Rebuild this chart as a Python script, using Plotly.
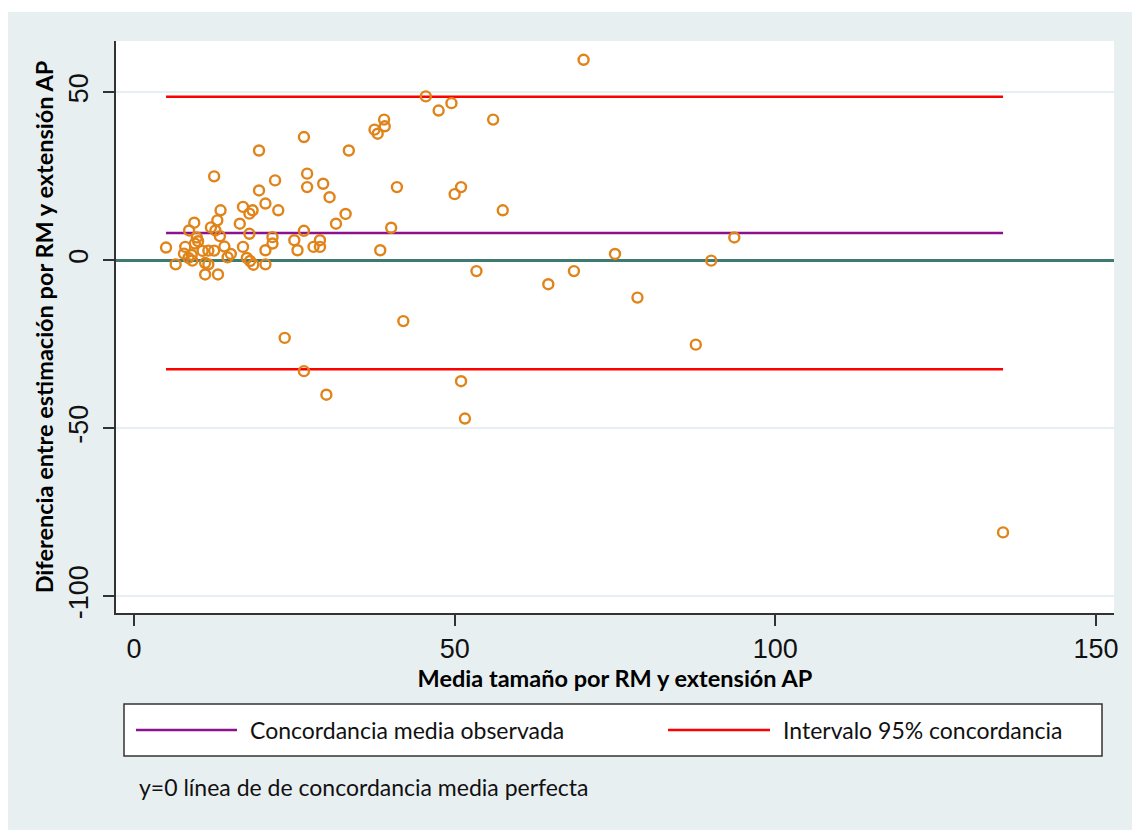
import plotly.graph_objects as go

# Bland-Altman: mean of the two size estimates (x) vs. their difference (y)
media = [
    70.1, 45.5, 47.5, 49.5, 56.0, 39.0, 39.1, 37.5, 38.0, 26.5,
    19.5, 33.5, 27.0, 22.0, 19.5, 27.0, 29.5, 30.5, 41.0, 50.0,
    51.0, 57.5, 20.5, 18.5, 18.0, 17.0, 22.5, 33.0, 31.5, 40.1,
    18.0, 26.5, 21.6, 21.6, 25.0, 29.0, 29.0, 28.0, 25.5, 20.5,
    38.4, 20.5, 12.5, 13.5, 16.5, 13.0, 9.4, 12.0, 12.7, 13.4,
    8.6, 9.8, 10.0, 9.5, 5.0, 8.0, 14.1, 17.0, 10.7, 11.6,
    12.5, 7.8, 9.0, 15.1, 14.6, 8.5, 9.1, 17.6, 18.1, 18.6,
    6.5, 11.1, 11.6, 11.1, 13.1, 23.5, 26.5, 30.0, 42.0, 51.0,
    51.6, 53.4, 64.6, 68.6, 75.0, 78.5, 87.6, 90.0, 93.6, 135.5,
]
diferencia = [
    59.7, 48.8, 44.6, 46.8, 41.9, 41.9, 39.9, 38.9, 37.7, 36.7,
    32.7, 32.7, 25.8, 23.8, 20.8, 21.8, 22.8, 18.8, 21.8, 19.7,
    21.8, 14.9, 16.9, 14.9, 13.9, 15.9, 14.9, 13.8, 10.9, 9.7,
    7.9, 8.8, 6.9, 5.0, 6.0, 6.0, 4.0, 4.0, 3.0, 3.0,
    3.0, -1.2, 25.0, 14.9, 10.9, 11.9, 11.2, 9.8, 8.9, 7.2,
    8.9, 6.8, 5.7, 5.0, 3.8, 4.0, 4.1, 4.0, 2.8, 2.9,
    2.9, 2.0, 1.6, 1.9, 0.9, 0.7, -0.1, 0.7, -0.2, -1.3,
    -1.2, -0.8, -1.2, -4.2, -4.2, -23.1, -33.0, -40.0, -18.1, -36.0,
    -47.1, -3.2, -7.1, -3.2, 1.9, -11.1, -25.1, -0.1, 6.8, -81.0,
]

concordancia_media = 8.15
limite_superior = 48.7
limite_inferior = -32.4

x_ticks = [0, 50, 100, 150]
x_tick_labels = ["0", "50", "100", "150"]
y_ticks = [-100, -50, 0, 50]
y_tick_labels = ["-100", "-50", "0", "50"]

etiqueta_media = "Concordancia media observada"
etiqueta_intervalo = "Intervalo 95% concordancia"
nota = "y=0 línea de de concordancia media perfecta"

COLOR_PUNTOS = "#e0841a"
COLOR_MEDIA = "#8a128c"
COLOR_LIMITES = "#ff0000"
COLOR_CERO = "#3d7a72"
COLOR_FONDO = "#e8eff1"
COLOR_REJILLA = "#e6eff2"

# plot-area geometry in pixels (figure is 1132 x 830)
FIG_W, FIG_H = 1132, 830
L, R, T, B = 116, 1114, 41, 613


def px(xp):
    return (xp - L) / (R - L)


def py(yp):
    return (B - yp) / (B - T)


x_lo, x_hi = min(media), max(media)

fig = go.Figure()

# agreement lines, spanning the observed range of means
for y_val, color in [
    (limite_superior, COLOR_LIMITES),
    (limite_inferior, COLOR_LIMITES),
    (concordancia_media, COLOR_MEDIA),
]:
    fig.add_trace(go.Scatter(
        x=[x_lo, x_hi], y=[y_val, y_val], mode="lines",
        line=dict(color=color, width=2.5), showlegend=False, hoverinfo="skip",
    ))

fig.add_trace(go.Scatter(
    x=media, y=diferencia, mode="markers",
    marker=dict(symbol="circle-open", size=10, color=COLOR_PUNTOS,
                line=dict(width=2.4, color=COLOR_PUNTOS)),
    showlegend=False,
))

shapes = [
    # outer graph region
    dict(type="rect", xref="paper", yref="paper", layer="below",
         x0=px(8), x1=px(FIG_W), y0=py(FIG_H), y1=py(12),
         fillcolor=COLOR_FONDO, line=dict(width=0)),
    # plot region
    dict(type="rect", xref="paper", yref="paper", layer="below",
         x0=0, x1=1, y0=0, y1=1, fillcolor="white", line=dict(width=0)),
    # legend box
    dict(type="rect", xref="paper", yref="paper",
         x0=px(124), x1=px(1102), y0=py(756), y1=py(704),
         fillcolor="white", line=dict(color="#333333", width=1.5)),
    # legend keys
    dict(type="line", xref="paper", yref="paper",
         x0=px(136), x1=px(237), y0=py(730), y1=py(730),
         line=dict(color=COLOR_MEDIA, width=2.5)),
    dict(type="line", xref="paper", yref="paper",
         x0=px(668), x1=px(770), y0=py(730), y1=py(730),
         line=dict(color=COLOR_LIMITES, width=2.5)),
]

texto = dict(family="Lato, 'Open Sans', sans-serif", size=23, color="#111111")
annotations = [
    dict(text=etiqueta_media, xref="paper", yref="paper", x=px(248), y=py(730),
         xanchor="left", yanchor="middle", showarrow=False, font=texto),
    dict(text=etiqueta_intervalo, xref="paper", yref="paper", x=px(781), y=py(730),
         xanchor="left", yanchor="middle", showarrow=False, font=texto),
    dict(text=nota, xref="paper", yref="paper", x=px(137), y=py(787),
         xanchor="left", yanchor="middle", showarrow=False, font=texto),
]

tick_font = dict(family="Liberation Sans, Arial, sans-serif", size=27, color="#111111")
title_font = dict(family="Lato, 'Open Sans', sans-serif", size=23.5, color="#000000")

fig.update_layout(
    width=FIG_W, height=FIG_H,
    margin=dict(l=L, r=FIG_W - R, t=T, b=FIG_H - B, pad=0),
    paper_bgcolor="white", plot_bgcolor="white",
    shapes=shapes, annotations=annotations,
    xaxis=dict(
        range=[-2.8, 152.8], tickmode="array", tickvals=x_ticks, ticktext=x_tick_labels,
        showline=True, linecolor="#333333", linewidth=2,
        ticks="outside", ticklen=11, tickwidth=2, tickcolor="#333333",
        showgrid=False, zeroline=False, tickfont=tick_font, ticklabelstandoff=0,
        title=dict(text="<b>Media tamaño por RM y extensión AP</b>",
                   font=title_font, standoff=2),
    ),
    yaxis=dict(
        range=[-105.0, 65.3], tickmode="array", tickvals=y_ticks, ticktext=y_tick_labels,
        tickangle=-90,
        showline=True, linecolor="#333333", linewidth=2,
        ticks="outside", ticklen=11, tickwidth=2, tickcolor="#333333",
        showgrid=True, gridcolor=COLOR_REJILLA, gridwidth=2,
        zeroline=True, zerolinecolor=COLOR_CERO, zerolinewidth=2.5,
        tickfont=tick_font, ticklabelstandoff=4,
        title=dict(text="<b>Diferencia entre estimación por RM y extensión AP</b>",
                   font=title_font, standoff=4),
    ),
)

fig.write_html("out.html")
